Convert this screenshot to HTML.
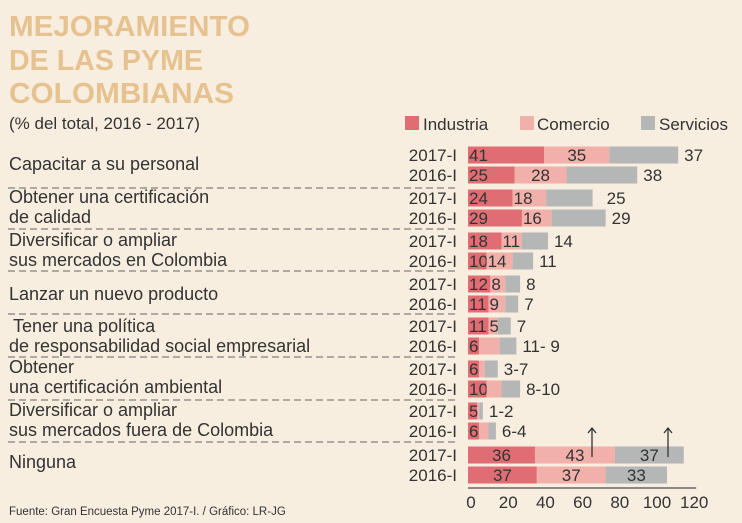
<!DOCTYPE html>
<html><head><meta charset="utf-8">
<style>
html,body{margin:0;padding:0;background:#f7eee0;}
svg{display:block;font-family:"Liberation Sans",sans-serif;}
</style></head>
<body>
<svg id="chart" width="742" height="523" viewBox="0 0 742 523">
<rect width="742" height="523" fill="#f7eee0"/>
<g fill="#e6c290" font-weight="bold" font-size="29">
<text x="9" y="36" textLength="241" lengthAdjust="spacingAndGlyphs">MEJORAMIENTO</text>
<text x="9" y="70" textLength="194" lengthAdjust="spacingAndGlyphs">DE LAS PYME</text>
<text x="9" y="103" textLength="225" lengthAdjust="spacingAndGlyphs">COLOMBIANAS</text>
</g>
<text x="9" y="129" font-size="17" fill="#333">(% del total, 2016 - 2017)</text>
<g font-size="17" fill="#333">
<rect x="405" y="116" width="14" height="14" fill="#e06c74"/>
<text x="423" y="130">Industria</text>
<rect x="520" y="116" width="14" height="14" fill="#f2b0ab"/>
<text x="537" y="130">Comercio</text>
<rect x="641" y="116" width="14" height="14" fill="#b5b6b6"/>
<text x="659" y="130">Servicios</text>
</g>
<g id="cats" font-size="18" fill="#333">
<text x="9" y="170">Capacitar a su personal</text>
<text x="9" y="203">Obtener una certificación</text>
<text x="9" y="223">de calidad</text>
<text x="9" y="246">Diversificar o ampliar</text>
<text x="9" y="266">sus mercados en Colombia</text>
<text x="9" y="300">Lanzar un nuevo producto</text>
<text x="13" y="332">Tener una política</text>
<text x="9" y="352">de responsabilidad social empresarial</text>
<text x="9" y="373">Obtener</text>
<text x="9" y="393">una certificación ambiental</text>
<text x="9" y="416">Diversificar o ampliar</text>
<text x="9" y="436">sus mercados fuera de Colombia</text>
<text x="9" y="468">Ninguna</text>
</g>
<g id="seps"></g>
<g id="bars"></g>
<g id="axis"></g>
<g stroke="#333" stroke-width="1.3" fill="none">
<path d="M592 457 V428 M588 433 L592 428 L596 433"/>
<path d="M668 457 V428 M664 433 L668 428 L672 433"/>
</g>
<text x="9" y="515" font-size="11.5" fill="#333">Fuente: Gran Encuesta Pyme 2017-I. / Gráfico: LR-JG</text>
</svg>
<script>
const years = ["2017-I","2016-I","2017-I","2016-I","2017-I","2016-I","2017-I","2016-I","2017-I","2016-I","2017-I","2016-I","2017-I","2016-I","2017-I","2016-I"];
const industria = [41,25,24,29,18,10,12,11,11,6,6,10,5,6,36,37];
const comercio = [35,28,18,16,11,14,8,9,5,11,3,8,1,5,43,37];
const servicios = [37,38,25,29,14,11,8,7,7,9,7,10,2,4,37,33];
const indLabels = ["41","25","24","29","18","10","12","11","11","6","6","10","5","6","36","37"];
const comLabels = ["35","28","18","16","11","14","8","9","5","","","","","","43","37"];
const serLabels = ["37","38","25","29","14","11","8","7","7","11- 9","3-7","8-10","1-2","6-4","37","33"];
const ticks = [0,20,40,60,80,100,120];
const sepYs = [188,229,271,314,357,400,442];
const rowY = [155,175,198,218,241,261,284,304,326,346,369,389,411,431,455,475];
const NS="http://www.w3.org/2000/svg";
const x0=468, xScale=v=>x0+v*1.86;
function mk(t,a,p){const e=document.createElementNS(NS,t);for(const k in a)e.setAttribute(k,a[k]);p.appendChild(e);return e;}
const seps=document.getElementById('seps');
sepYs.forEach(y=>{const l=mk('line',{x1:8,x2:457,y1:y,y2:y,stroke:'#666','stroke-width':1,'stroke-dasharray':'7,4'},seps);

});
const bars=document.getElementById('bars');
const cols=['#e06c74','#f2b0ab','#b5b6b6'];
years.forEach((yr,i)=>{
  const cy=rowY[i], h=17, top=cy-h/2;
  const yt=mk('text',{x:457,y:cy+6,'text-anchor':'end','font-size':17,fill:'#333'},bars);yt.textContent=yr;
  
  
  const vals=[industria[i],comercio[i],servicios[i]];
  const labs=[indLabels[i],comLabels[i],serLabels[i]];
  let acc=0;
  const ning=i>=14;
  vals.forEach((v,j)=>{
    const xa=xScale(acc), xb=xScale(acc+v); acc+=v;
    const r=mk('rect',{x:xa,y:top,width:Math.max(0,xb-xa),height:h,fill:cols[j]},bars);
    
    
    if(!labs[j])return;
    let tx,anchor='start';
    if(ning){tx=(xa+xb)/2;anchor='middle';}
    else if(j===2){tx=xb+(i===2?14:6);}
    else if(j===1&&xb-xa>40){tx=(xa+xb)/2;anchor='middle';}
    else tx=xa+1;
    const t=mk('text',{x:tx,y:cy+6,'text-anchor':anchor,'font-size':17,fill:'#333'},bars);t.textContent=labs[j];
    
    
  });
});
const ax=document.getElementById('axis');
const al=mk('line',{x1:x0,x2:xScale(120)+5,y1:488,y2:488,stroke:'#666','stroke-width':1.5},ax);


ticks.forEach(t=>{const e=mk('text',{x:xScale(t)+3,y:508,'text-anchor':'middle','font-size':17,fill:'#333'},ax);e.textContent=t;

});
</script>
</body></html>
